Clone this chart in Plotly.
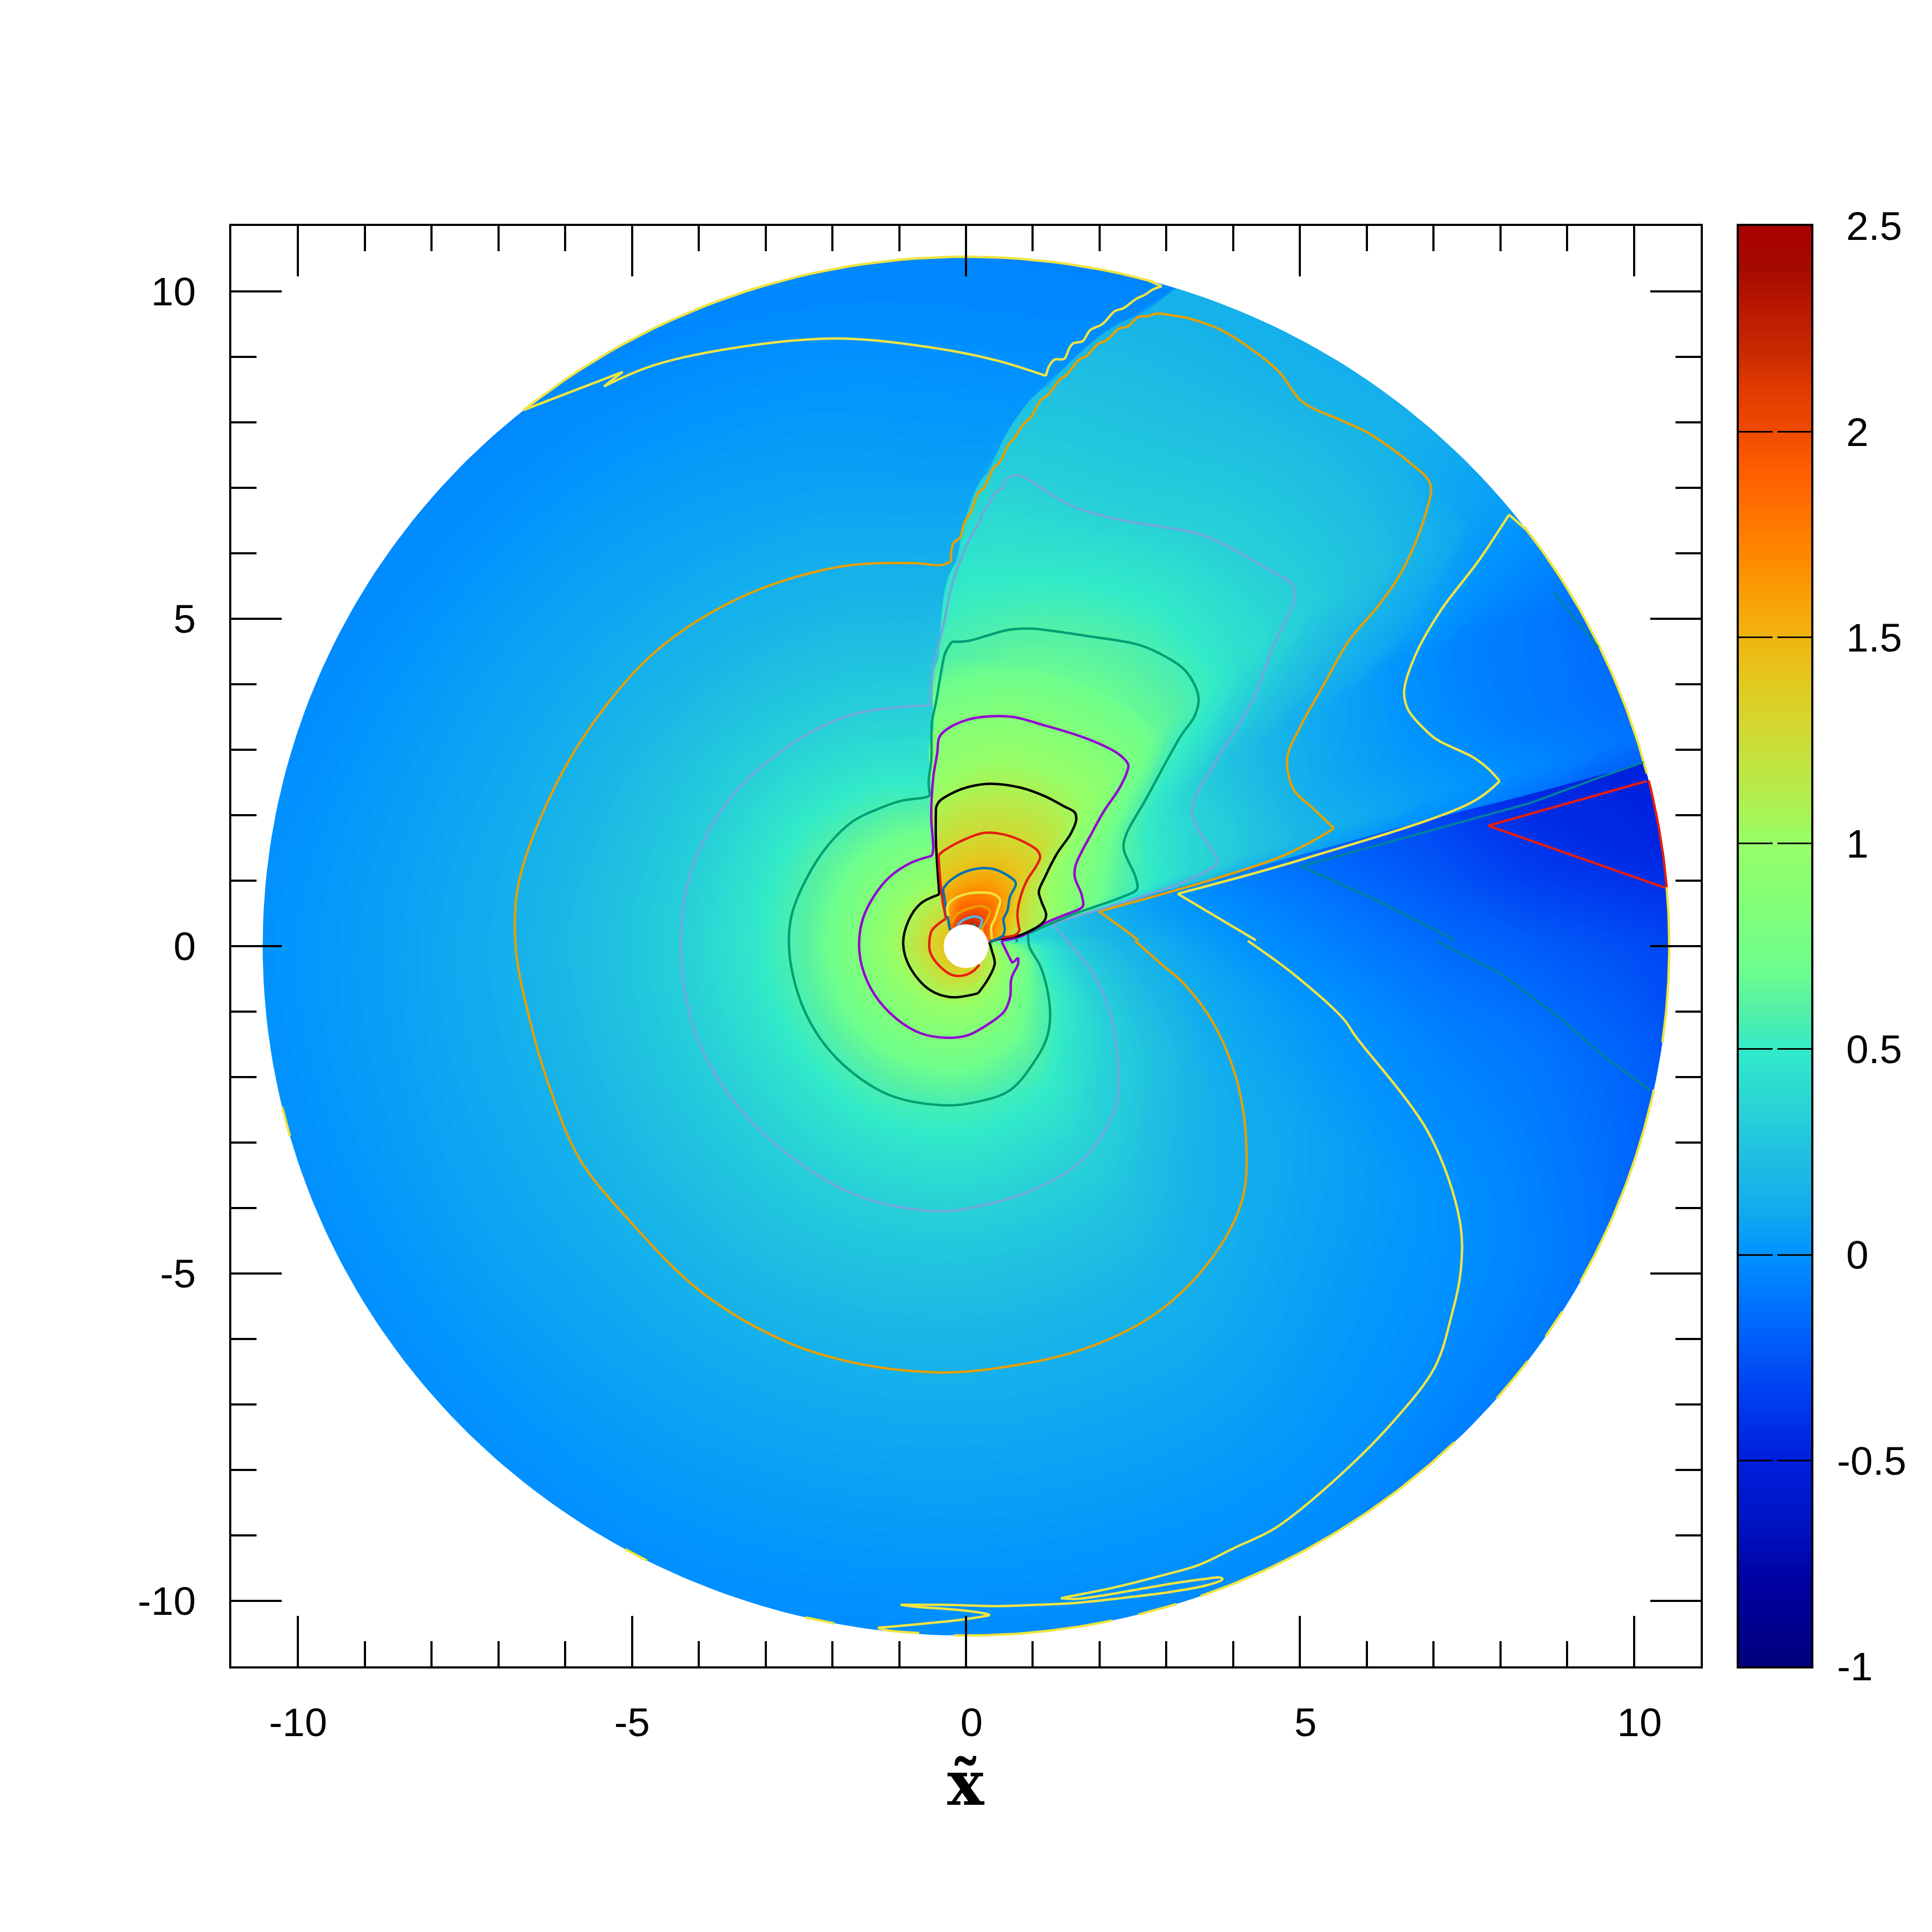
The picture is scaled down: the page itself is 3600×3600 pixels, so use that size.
import numpy as np
import plotly.graph_objects as go

# ---- field table --------------------------------------------------------
radii = [0.3, 0.5, 0.8, 1.2, 1.7, 2.4, 3.3, 4.4, 5.8, 7.2, 8.6, 10.0, 11.0]
wedge_deg = [11, 11, 12, 15, 16, 16, 15.8, 15.6, 15.6, 15.6, 15.4, 15.4, 15.4]
shock_deg = [137, 125, 117, 110, 105, 102, 98, 95, 91.2, 87.2, 81.8, 74.5, 70]

# lobe between the wedge and the shock: one row per radius
lobe_fractions = [0.0, 0.04, 0.12, 0.25, 0.42, 0.6, 0.8, 1.0]
lobe_values = [
    [1.6, 1.8, 1.95, 2.05, 2.25, 2.3, 2.15, 1.9],
    [1.2, 1.56, 1.64, 1.74, 2.03, 2.02, 1.91, 1.5],
    [1.0, 1.22, 1.32, 1.49, 1.72, 1.74, 1.66, 1.5],
    [.75, 1.08, 1.1, 1.2, 1.47, 1.5, 1.43, 1.35],
    [.6, .85, .9, .97, 1.3, 1.3, 1.27, 1.2],
    [.42, .6, .66, .8, 1.1, 1.12, 1.09, 1.0],
    [.25, .42, .44, .52, .9, .93, .92, .85],
    [.15, .28, .3, .31, .65, .68, .66, .58],
    [.05, .13, .11, .14, .46, .51, .49, .46],
    [-.01, .05, .03, .05, .33, .34, .32, .33],
    [-.1, -.02, -.06, -.05, .22, .25, .24, .24],
    [-.18, -.1, -.12, -.1, .06, .15, .15, .16],
    [-.2, -.14, -.16, -.15, .03, .12, .12, .13],
]

# spiral side: one column per angle, going round from the shock to the wedge
spiral_left_of_shock = [1.45, 1.29, 1.12, .94, .76, .54, .39, .27, .135, .06, .01, -.035, -.06]
# two columns that fan out between the shock and the 150 degree column
fan_fractions = [1 / 3, 2 / 3]
fan_values = [
    [1.45, 1.29, 1.13, .95, .77, .57, .41, .28, .155, .075, .025, -.03, -.05],
    [1.45, 1.3, 1.13, .96, .79, .6, .44, .3, .17, .09, .04, -.02, -.045],
]
spiral_deg = [150, 180, 210, 240, 270, 300, 330, 350, 360, 368]
spiral_values = [
    [1.45, 1.3, 1.14, .97, .80, .62, .46, .31, .19, .10, .05, -.01, -.04],
    [1.45, 1.3, 1.14, .97, .80, .61, .46, .32, .21, .115, .065, .02, -.01],
    [1.42, 1.28, 1.1, .94, .79, .60, .44, .31, .2, .11, .065, .01, -.02],
    [1.4, 1.26, 1.08, .93, .77, .59, .44, .31, .2, .11, .06, .01, -.02],
    [1.37, 1.23, 1.05, .9, .74, .56, .43, .30, .19, .105, .055, .0, -.04],
    [1.3, 1.15, .98, .82, .66, .51, .38, .27, .16, .095, .045, -.005, -.05],
    [1.2, 1.08, .86, .63, .48, .34, .24, .125, .085, .04, -.005, -.07, -.13],
    [1.15, 1.0, .78, .5, .34, .23, .115, .06, -.01, -.07, -.11, -.18, -.26],
    [1.1, .93, .66, .45, .29, .17, .08, -.005, -.08, -.155, -.215, -.28, -.33],
    [.75, .6, .45, .33, .23, .12, .035, -.045, -.14, -.24, -.36, -.44, -.48],
]
below_wedge = [.7, .65, .6, .4, .23, .095, 0, -.09, -.2, -.30, -.44, -.48, -.5]

# colour scale
scale_values = [-1, -.8, -.65, -.5, -.35, -.2, -.1, 0, .1, .2, .35, .5, .6, .7, .85, 1, 1.1, 1.25,
                1.4, 1.5, 1.6, 1.7, 1.8, 1.9, 2, 2.1, 2.2, 2.3, 2.4, 2.5]
scale_colors = ["#00007d", "#0000a0", "#0014c3", "#001edc", "#003cf0", "#005ffa", "#0078ff", "#0091ff",
                "#0faaf0", "#1cb9e4", "#28d2d7", "#32ebc8", "#55f0a5", "#6eff8c", "#82ff78", "#96ff69",
                "#aff050", "#cddc37", "#e4c81e", "#f0b40f", "#f8a005", "#ff8700", "#ff7300", "#ff5f00",
                "#f04b00", "#e13c00", "#c82800", "#b91900", "#a50a00", "#aa0000"]

# ---- contour lines (x, y); None breaks a line, which also keeps a corner sharp ----------------------------
line_orange = [
    (5.51, 1.80), (4.72, 1.37), (1.99, .53), None, (1.99, .53), (2.375, .25), (2.58, .09), None,
    (2.53, .084), (2.93, -.28), (3.24, -.55), (3.70, -1.17), (4.07, -2.11), (4.2, -3.14), (4.13, -3.89),
    (3.70, -4.74), (2.87, -5.59), (1.77, -6.15), (.29, -6.47), (-.44, -6.51), (-1.55, -6.39), (-2.65, -6.06),
    (-3.94, -5.30), (-5.05, -4.18), (-5.79, -3.24), (-6.25, -2.11), (-6.52, -1.17), (-6.74, -.04), (-6.71, .90),
    (-6.34, 2.03), (-5.69, 3.25), (-4.68, 4.47), (-3.39, 5.32), (-1.92, 5.79), (-.80, 5.85), (-.37, 5.82),
    (-.23, 5.87), None, (-.23, 5.87), (-.19, 6.15), (-.09, 6.24), (-.02, 6.48), (.07, 6.62), (.18, 6.92), (.27, 7.0), (.41, 7.30),
    (.51, 7.40), (.63, 7.65), (.73, 7.77), (.86, 7.97), (.98, 8.09), (1.12, 8.34), (1.22, 8.41), (1.41, 8.66),
    (1.49, 8.71), (1.70, 8.96), (1.80, 9.01), (1.98, 9.20), (2.10, 9.25), (2.29, 9.43), (2.43, 9.47), (2.58, 9.61),
    (2.72, 9.62), (2.84, 9.66), (3.05, 9.64), (3.33, 9.59), (3.58, 9.51), (3.82, 9.41), (4.19, 9.18), (4.68, 8.78),
    (5.03, 8.32), (5.62, 8.03), (6.0, 7.85), (6.65, 7.38), (6.95, 7.06), (6.89, 6.63), (6.56, 5.79), (6.19, 5.22),
    (5.73, 4.66), (5.36, 4.0), (5.0, 3.34), (4.81, 2.87), (4.90, 2.40), (5.18, 2.12), (5.51, 1.80),
]
line_sky = [
    (1.29, .34), (1.50, .10), (1.90, -.41), (2.18, -1.11), (2.28, -2.02), (2.23, -2.49), (1.77, -3.24), (1.03, -3.71),
    (.11, -3.99), (-.44, -4.05), (-1.55, -3.84), (-2.47, -3.33), (-3.39, -2.48), (-4.04, -1.36), (-4.27, -.04),
    (-4.13, 1.09), (-3.57, 2.21), (-2.65, 3.06), (-1.73, 3.53), (-.53, 3.68), None, (-.53, 3.68), (-.50, 4.20), (-.43, 4.52), (-.33, 4.94),
    (-.23, 5.44), (-.09, 5.88), (.06, 6.23), (.20, 6.48), (.24, 6.61), (.36, 6.78), (.43, 6.92), (.55, 7.0), (.62, 7.15),
    (.80, 7.19), (.96, 7.11), (1.24, 6.92), (1.57, 6.73), (1.98, 6.59), (2.47, 6.48), (3.09, 6.38), (3.54, 6.28),
    (3.91, 6.11), (4.28, 5.90), (4.64, 5.69), (4.89, 5.52), (4.92, 5.32), (4.73, 4.86), (4.56, 4.48), (4.31, 3.79),
    (3.76, 2.85), (3.42, 2.25), (3.39, 2.0), (3.51, 1.72), (3.76, 1.32), (3.73, 1.22), None, (3.73, 1.22), (3.21, .96), (2.0, .56), (1.29, .34),
]
line_teal = [
    (.93, .19), (.95, -.01), (1.11, -.30), (1.21, -.63), (1.26, -1.07), (1.21, -1.40), (1.07, -1.69), (.66, -2.2),
    (.11, -2.39), (-.35, -2.43), (-1.18, -2.26), (-1.92, -1.73), (-2.38, -1.07), (-2.63, -.23), (-2.62, .43), (-2.40, 1.01),
    (-2.05, 1.56), (-1.69, 1.91), (-1.33, 2.09), (-.97, 2.22), (-.58, 2.28), (-.54, 2.31), None, (-.54, 2.31), (-.56, 2.51), (-.52, 2.84),
    (-.51, 3.42), (-.45, 3.72), (-.37, 4.2), (-.31, 4.48), (-.21, 4.65), None, (-.21, 4.65), (.02, 4.66), (.34, 4.75), (.63, 4.83), (.96, 4.85),
    (1.33, 4.81), (1.86, 4.73), (2.56, 4.61), (2.88, 4.48), (3.29, 4.2), (3.48, 3.81), (3.43, 3.53), (3.21, 3.2), (2.68, 2.22),
    (2.40, 1.71), (2.36, 1.49), (2.54, 1.05), (2.56, .87), (2.36, .76), (1.54, .46), (.93, .19), None,
    (.76, .11), (.76, .06), None, (.10, .32), (.14, .32),
]
line_purple = [
    (.53, .08), (.68, -.23), (.695, -.25), (.78, -.175), None, (.78, -.175), (.78, -.27), (.68, -.49), (.66, -.78), (.57, -1.0), (.35, -1.18),
    (.03, -1.36), (-.29, -1.40), (-.68, -1.33), (-1.04, -1.11), (-1.37, -.74), (-1.56, -.30), (-1.60, .06), (-1.54, .43),
    (-1.38, .76), (-1.15, 1.05), (-.83, 1.27), (-.51, 1.38), None, (-.51, 1.38), (-.49, 1.49), (-.52, 1.96), (-.49, 2.58), (-.43, 2.95),
    (-.40, 3.19), (-.29, 3.31), (.03, 3.46), (.36, 3.51), (.71, 3.50), (1.18, 3.37), (1.61, 3.24), (2.00, 3.09), (2.29, 2.93),
    (2.43, 2.77), (2.41, 2.66), (2.29, 2.40), (2.07, 2.07), (1.89, 1.74), (1.64, 1.23), (1.63, 1.05), (1.73, .79), (1.75, .61),
    (1.64, .54), None, (1.64, .54), (1.18, .35), (.82, .15), (.53, .08),
]
line_black = [
    (.35, .06), (.46, .10), (.82, .17), (1.16, .37), (1.20, .48), (1.13, .68), (1.09, .83), (1.18, 1.05), (1.36, 1.41), (1.57, 1.72),
    (1.65, 1.93), (1.63, 2.04), (1.46, 2.14), (1.18, 2.29), (.82, 2.42), (.35, 2.48), (.03, 2.43), (-.18, 2.35), (-.40, 2.21),
    (-.45, 2.11), None, (-.45, 2.11), (-.45, 1.60), (-.40, .79), None, (-.40, .79), (-.68, .65), (-.86, .39), (-.94, .03), (-.83, -.34), (-.54, -.67), (-.22, -.78),
    (.18, -.72), None, (.18, -.72), (.32, -.52), (.43, -.27), (.39, -.08), (.35, .06),
]
line_red = [
    (.20, -.28), (.11, -.38), (-.05, -.45), (-.21, -.44), (-.40, -.30), (-.53, -.11), (-.55, .05), (-.51, .24), (-.30, .42), None,
    (-.30, .42), (-.36, .76), (-.40, 1.2), (-.41, 1.39), None, (-.41, 1.39), (-.33, 1.46), (-.02, 1.63), (.27, 1.73), (.59, 1.70), (.91, 1.57), (1.07, 1.46),
    (1.11, 1.36), (1.05, 1.22), (.91, 1.0), (.81, .73), (.77, .49), (.79, .30), (.80, .25), (.74, .17), (.54, .13), (.35, .065),
]
line_blue = [
    (-.24, .24), (-.345, .87), None, (-.345, .87), (-.26, .98), (-.05, 1.12), (.22, 1.19), (.40, 1.18), (.59, 1.10), (.74, .98), (.74, .92),
    (.66, .76), (.62, .54), (.56, .41), (.58, .26), (.55, .16), (.35, .07),
]
line_inner_yellow = [
    (-.265, .46), (-.28, .60), (-.22, .69), (-.02, .79), (.22, .82), (.40, .80), (.51, .71), (.48, .57), (.43, .41), (.38, .30), (.39, .11),
]
line_inner_orange = [
    (-.22, .35), (-.13, .49), (.056, .58), (.24, .61), (.36, .54), (.32, .41), (.24, .26), (.27, .215),
]
line_inner_sky = [
    (-.13, .32), (-.02, .41), (.14, .45), (.23, .42), (.24, .38), (.20, .27),
]
line_yellow_top = [
    (-6.62, 8.19), (-5.14, 8.77), None, (-5.14, 8.77), (-5.42, 8.55), None, (-5.42, 8.55), (-4.68, 8.87), (-3.39, 9.15), (-1.92, 9.28), (-.44, 9.13), (.48, 8.94), (1.196, 8.71), None,
    (1.196, 8.71), (1.245, 8.86), (1.327, 8.96), (1.47, 8.97), (1.55, 9.14), (1.61, 9.21), (1.745, 9.24), (1.86, 9.41), (2.04, 9.50), (2.23, 9.70),
    (2.35, 9.74), (2.555, 9.89), (2.68, 9.95), (2.80, 10.03), (2.93, 10.08), None, (2.93, 10.08), (2.72, 10.17),
]
line_yellow_right = [
    (8.40, 6.35), (8.13, 6.59), None, (8.13, 6.59), (7.67, 5.88), (7.11, 5.13), (6.74, 4.47), (6.56, 3.9), (6.61, 3.63), (6.71, 3.48), (6.83, 3.35), (7.04, 3.16),
    (7.60, 2.88), (7.84, 2.69), (7.99, 2.52), None, (7.99, 2.52), (7.56, 2.19), (5.05, 1.33), (3.17, .80), None, (3.17, .80), (4.34, .09), None,
    (4.22, .08), (4.92, -.44), (5.66, -1.12), (5.82, -1.36), (6.93, -2.86), (7.39, -4.18), (7.41, -4.93), (7.26, -5.68), (7.02, -6.43),
    (6.38, -7.28), (5.45, -8.22), (4.62, -8.895), (4.04, -9.18), (3.49, -9.45), (2.98, -9.60), (2.20, -9.80), (1.56, -9.93), (1.42, -9.96), None,
    (1.42, -9.96), (1.65, -9.97), (1.97, -9.93), (2.66, -9.81), (3.12, -9.73), (3.54, -9.67), (3.81, -9.645), (3.84, -9.67), (3.61, -9.76), (3.08, -9.86),
    (2.43, -9.945), (1.65, -10.03), (1.05, -10.06), (.47, -10.08), (-.33, -10.06), (-.98, -10.06), None, (-.98, -10.06), (-.75, -10.09), (-.10, -10.14),
    (.31, -10.2), (.36, -10.22), None, (.36, -10.22), (-.01, -10.28), (-.56, -10.34), (-1.07, -10.39), (-1.32, -10.41), None, (-1.32, -10.41), (-1.18, -10.45), (-.70, -10.49),
]
line_wedge_teal = [
    (10.14, 2.81), (9.47, 2.57), (8.46, 2.19), (5.02, 1.22), (6.15, .70), (7.01, .25), (7.32, .09), None,
    (7.04, .08), (7.99, -.41), (8.92, -1.12), (9.5, -1.64), (10.24, -2.2), None,
    (8.8, 5.4), (9.47, 4.56),
]
line_wedge_red = [(10.19, 2.52), (7.82, 1.84), (10.47, .89)]

# stretches of the rim (degrees) that carry a contour
rim_radius = 10.53
rim_yellow = [(74.5, 129), (14.5, 37.5), (-8, 5), (-23, -12), (-26, -23), (-29.1, -25.6), (-34.5, -32), (-41, -37), (-70.5, -46),
              (-75.8, -72.6), (-91, -78), (-103.2, -100.8), (-119, -117), (-166.5, -164)]
rim_red = [(4.9, 13.9)]

# axis ticks
major_ticks = [-10, -5, 0, 5, 10]
major_labels = ["-10", "-5", "0", "5", "10"]
minor_ticks = [-10, -9, -8, -7, -6, -5, -4, -3, -2, -1, 0, 1, 2, 3, 4, 5, 6, 7, 8, 9, 10]
bar_ticks = [-1, -.5, 0, .5, 1, 1.5, 2, 2.5]
bar_labels = ["-1", "-0.5", "0", "0.5", "1", "1.5", "2", "2.5"]

W = 3600
PAGE = 8  # the page body keeps an 8 px margin round the figure
LINE_WIDTH = 4.5
colorscale = [[(v + 1) / 3.5, c] for v, c in zip(scale_values, scale_colors)]


def px_x(p):
    return (p - PAGE) / W


def px_y(p):
    return 1 - (p - PAGE) / W


# carpet grid in polar form
r = np.array(radii)
wedge = np.array(wedge_deg)
shock = np.array(shock_deg)
left_of_shock = shock + 0.8
angles = [wedge + f * (shock - wedge) for f in lobe_fractions]
angles.append(left_of_shock)
angles += [left_of_shock + g * (spiral_deg[0] - left_of_shock) for g in fan_fractions]
angles += [np.full_like(r, a, dtype=float) for a in spiral_deg]
angles.append(wedge + 360 + 0.3)
angles = np.radians(np.array(angles))
grid_x = np.cos(angles) * r
grid_y = np.sin(angles) * r

field = ([list(col) for col in zip(*lobe_values)] + [spiral_left_of_shock] + fan_values
         + spiral_values + [below_wedge])
a_idx = list(range(len(radii)))
b_idx = list(range(len(field)))

fig = go.Figure()
hidden = dict(startline=False, endline=False, showticklabels="none", showgrid=False, showline=False,
              minorgridcount=0, smoothing=1)
fig.add_trace(go.Carpet(carpet="disk", a=a_idx, b=b_idx, x=grid_x, y=grid_y, aaxis=hidden, baxis=hidden))
fig.add_trace(go.Contourcarpet(
    carpet="disk", a=a_idx, b=b_idx, z=field, colorscale=colorscale, zmin=-1, zmax=2.5, autocontour=False,
    contours=dict(start=-1, end=2.5, size=0.01, coloring="fill", showlines=False),
    line=dict(width=0), showscale=False))

# white everywhere past the rim, so the disk edge is round (inner circle runs the other way round)
t = np.radians(np.arange(360, -1, -1.0))
mask_x = [11, 11, -11, -11, 11, 11] + list(rim_radius * np.cos(t)) + [11]
mask_y = [0, 11, 11, -11, -11, 0] + list(rim_radius * np.sin(t)) + [0]
fig.add_trace(go.Scatter(x=mask_x, y=mask_y, mode="lines", fill="toself", fillcolor="white",
                         line=dict(width=0), hoverinfo="skip", showlegend=False))


def add_line(points, color, smooth=1.0, width=LINE_WIDTH):
    xs = [p[0] if p else None for p in points]
    ys = [p[1] if p else None for p in points]
    line = dict(color=color, width=width)
    if smooth:
        line.update(shape="spline", smoothing=smooth)
    fig.add_trace(go.Scatter(x=xs, y=ys, mode="lines", line=line, showlegend=False, hoverinfo="skip"))


def add_rim(spans, color):
    pts = []
    for a0, a1 in spans:
        for a in np.radians(np.linspace(a0, a1, 40)):
            pts.append((rim_radius * np.cos(a), rim_radius * np.sin(a)))
        pts.append(None)
    add_line(pts, color, smooth=0)


add_rim(rim_yellow, "#F0E442")
add_rim(rim_red, "#E51E10")
add_line(line_yellow_top, "#F0E442")
add_line(line_yellow_right, "#F0E442")
add_line(line_wedge_teal, "#00829F", smooth=0, width=4)
add_line(line_wedge_red, "#E51E10", smooth=0)
add_line(line_orange, "#E69F00")
add_line(line_sky, "#6FA8DC")
add_line(line_teal, "#009E73")
add_line(line_purple, "#9400D3")
add_line(line_black, "#000000")
add_line(line_red, "#E51E10")
add_line(line_blue, "#0072B2")
add_line(line_inner_yellow, "#F0E442")
add_line(line_inner_orange, "#E69F00")
add_line(line_inner_sky, "#56B4E9")

# colour bar as its own small panel, so its ticks can come in from both sides
bar_levels = np.arange(-1, 2.5001, 0.01)
fig.add_trace(go.Heatmap(x=[0, 1], y=bar_levels, z=[[v, v] for v in bar_levels], colorscale=colorscale,
                         zmin=-1, zmax=2.5, showscale=False, xaxis="x2", yaxis="y2", hoverinfo="skip"))

font = dict(family="Liberation Sans", size=75, color="black")
frame = dict(showgrid=False, zeroline=False, showline=True, linecolor="black", linewidth=4, mirror="ticks",
             ticks="inside", ticklen=94, tickwidth=4, tickcolor="black", tickfont=font, tickmode="array",
             tickvals=major_ticks, ticktext=major_labels, range=[-11, 11], automargin=False,
             minor=dict(ticks="inside", ticklen=47, tickwidth=4, tickcolor="black", tickmode="array", tickvals=minor_ticks))

# negative colour bar labels hang to the left of the digit column, so they go in as annotations
notes = [
    dict(text="<b>x\u0303</b>", x=px_x(1800), y=px_y(3322), xref="paper", yref="paper", showarrow=False, xanchor="center", yanchor="middle",
         font=dict(family="DejaVu Serif", size=115, color="black")),
]
for v, label in zip(bar_ticks, bar_labels):
    if v < 0:
        notes.append(dict(text=label, x=px_x(3421), y=v, xref="paper", yref="y2", showarrow=False, xanchor="left",
                          yanchor="middle", font=font))

# positive x labels sit a little right of their ticks in the reference
x_labels = [label if v < 0 else "\u00a0" + label for v, label in zip(major_ticks, major_labels)]

fig.update_layout(
    width=W, height=W, autosize=False, paper_bgcolor="white", plot_bgcolor="white", showlegend=False,
    margin=dict(l=0, r=0, t=0, b=0, pad=0),
    xaxis=dict(frame, domain=[px_x(431), px_x(3169)], anchor="y", ticklabelstandoff=36, ticktext=x_labels),
    yaxis=dict(frame, domain=[px_y(3105), px_y(421)], anchor="x", ticklabelstandoff=47),
    xaxis2=dict(domain=[px_x(3240), px_x(3375)], anchor="y2", range=[0, 1], showticklabels=False, ticks="", showgrid=False,
                zeroline=False, showline=True, linecolor="black", linewidth=4, mirror=True, automargin=False),
    yaxis2=dict(domain=[px_y(3105), px_y(421)], anchor="x2", side="right", range=[-1, 2.5], showgrid=False, zeroline=False,
                showline=True, linecolor="black", linewidth=4, mirror="ticks", ticks="inside", ticklen=63, tickwidth=3,
                tickcolor="black", tickfont=font, tickmode="array", tickvals=bar_ticks,
                ticktext=["" if v < 0 else label for v, label in zip(bar_ticks, bar_labels)], ticklabelstandoff=46,
                automargin=False),
    shapes=[dict(type="circle", xref="x", yref="y", x0=-.335, x1=.335, y0=-.335, y1=.335,
                 fillcolor="white", line=dict(width=0), layer="above")],
    annotations=notes,
)

fig.write_html("out.html")
